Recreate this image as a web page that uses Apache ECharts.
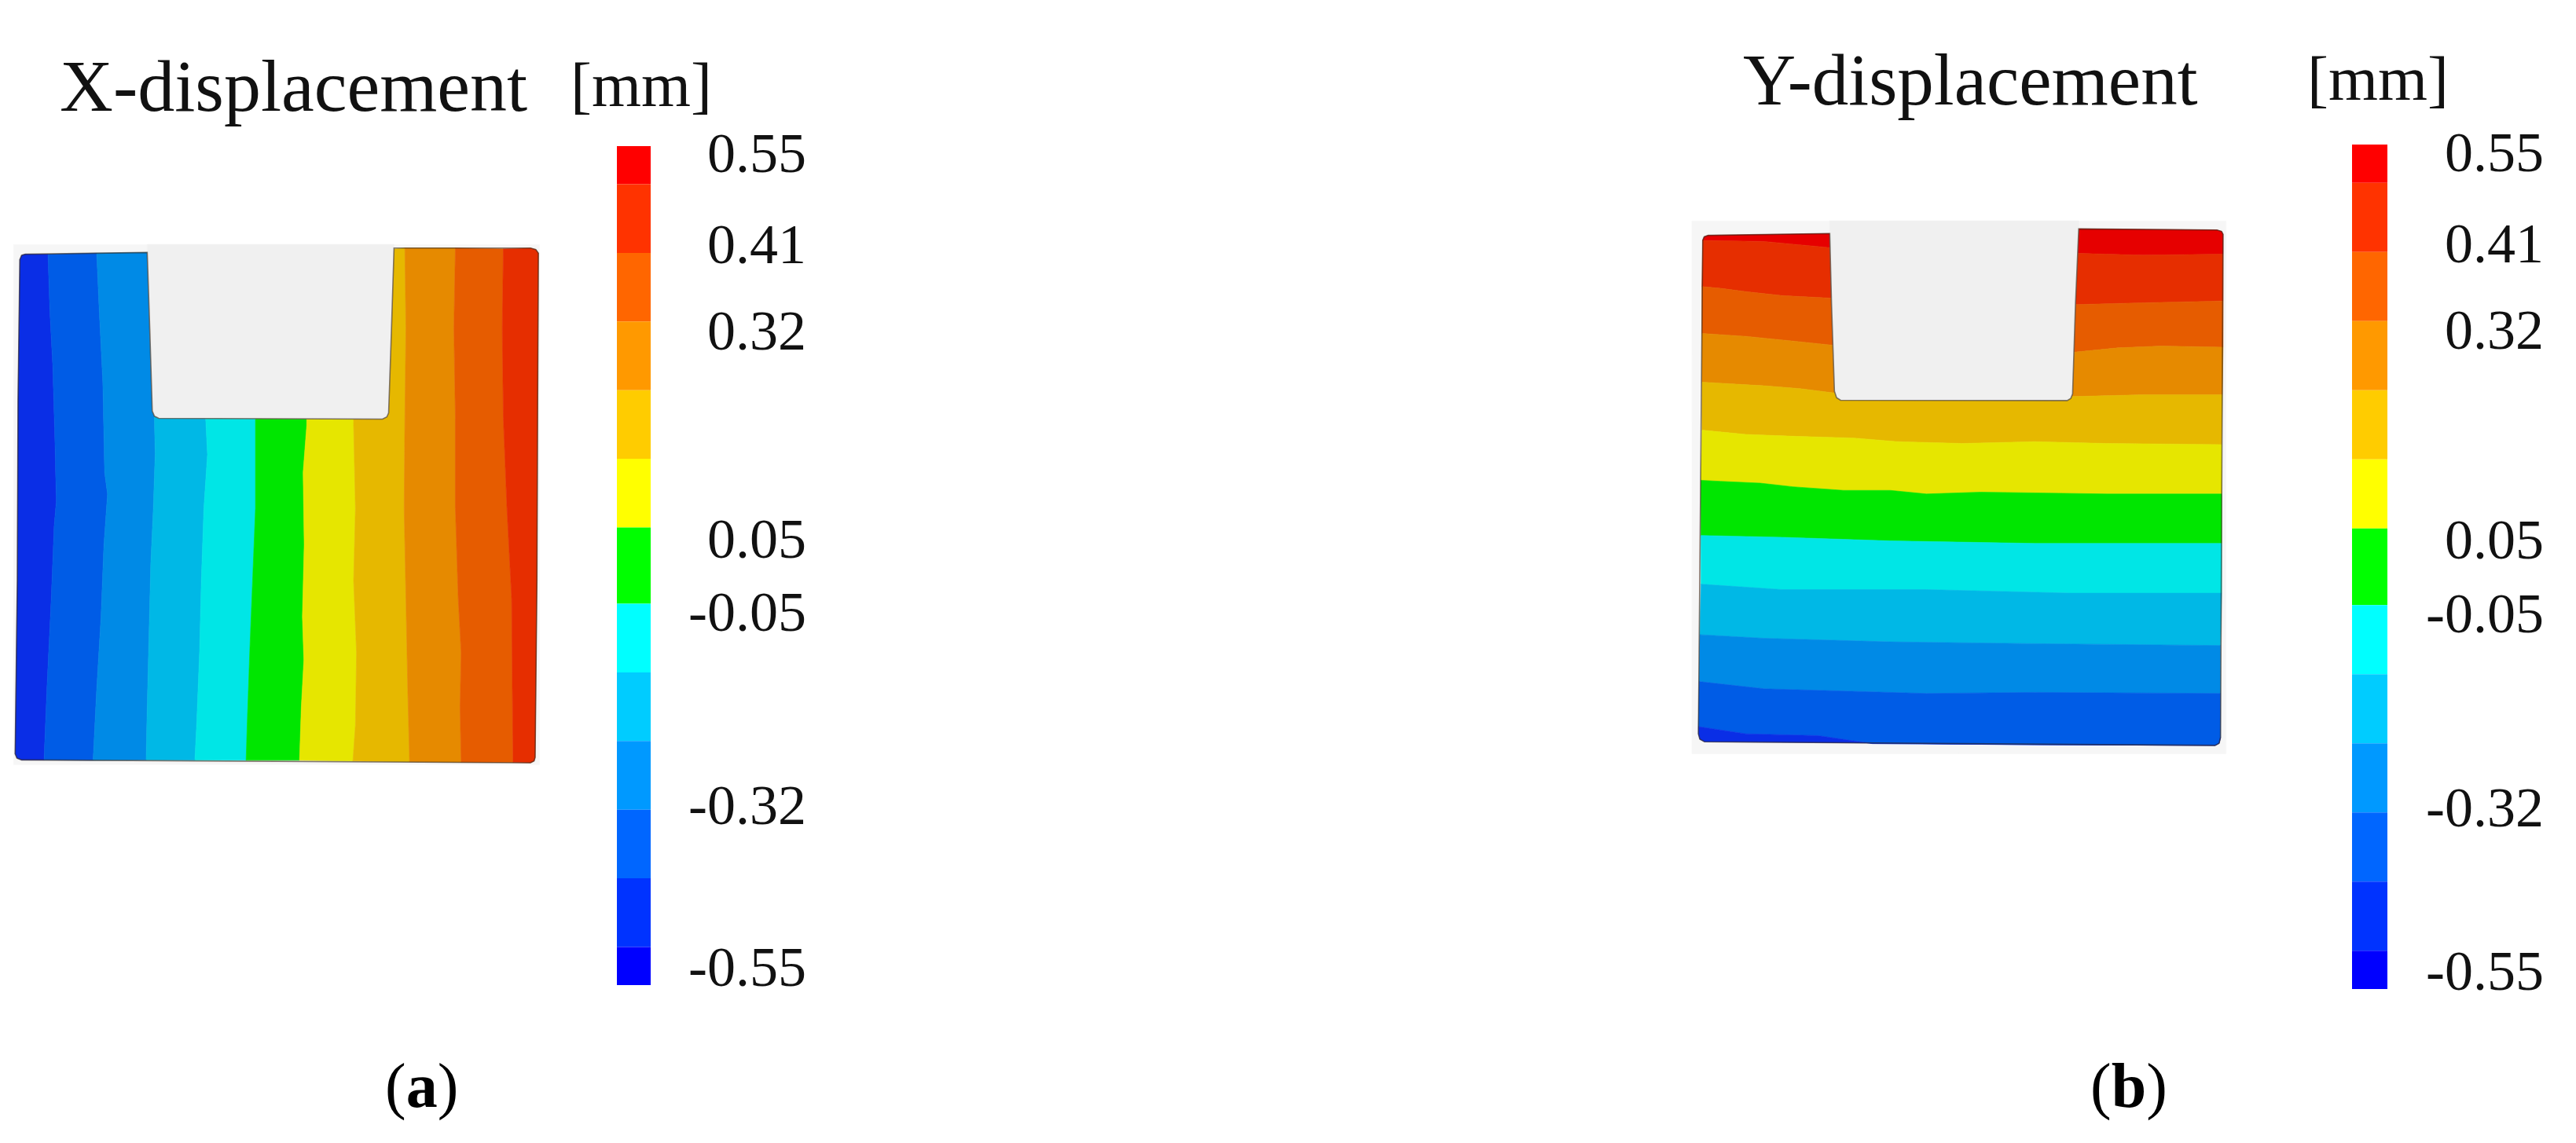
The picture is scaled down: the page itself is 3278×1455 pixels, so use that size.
<!DOCTYPE html>
<html>
<head>
<meta charset="utf-8">
<title>Displacement contours</title>
<script src="https://cdn.jsdelivr.net/npm/echarts@6/dist/echarts.min.js"></script>
<style>
  html, body { margin: 0; background: #fff; }
  #chart { width: 3278px; height: 1455px; }
</style>
</head>
<body>
<div id="chart"></div>
<script>
// colour scale, top to bottom
const bandEdges = [0.55, 0.50, 0.41, 0.32, 0.23, 0.14, 0.05, -0.05, -0.14, -0.23, -0.32, -0.41, -0.50, -0.55]
const barColors = ['#ff0000', '#ff3300', '#ff6600', '#ff9900', '#ffcc00', '#ffff00', '#00ff00',
  '#00ffff', '#00ccff', '#0099ff', '#0066ff', '#0033ff', '#0000ff']
const tickLabels = ['0.55', '0.41', '0.32', '0.05', '-0.05', '-0.32', '-0.55']
// where the printed labels sit on the scale (they are not on the band edges in the figure)
const tickAnchors = [0.535, 0.416, 0.303, 0.030, -0.066, -0.319, -0.532]

// the plate is shaded a little darker than the scale
const xPlateColors = ['#0a2ee6', '#005ce6', '#008ae6', '#00b8e6', '#00e6e6', '#00e600',
  '#e6e600', '#e6b800', '#e68a00', '#e65c00', '#e62e00']
const yPlateColors = ['#e60000', '#e62e00', '#e65c00', '#e68a00', '#e6b800', '#e6e600', '#00e600',
  '#00e6e6', '#00b8e6', '#008ae6', '#005ce6', '#0a2ee6']

// X-displacement plate, contour lines left to right, plate units
const xLeftEdge = [[70, 95], [60, 98], [55, 110], [50, 500], [48, 1000], [42, 1480], [47, 1492], [60, 1497]]
const xRightEdge = [[1470, 78], [1485, 82], [1492, 92], [1490, 500], [1488, 1000], [1483, 1490], [1480, 1500], [1470, 1505]]
const xNotch = [[408, 90], [415, 300], [422, 530], [428, 544], [440, 550], [1060, 552], [1072, 546], [1077, 535], [1085, 300], [1092, 78]]
const xContours = [
  [[133, 95], [138, 250], [146, 400], [152, 600], [156, 780], [150, 850], [142, 1050], [130, 1300], [122, 1497]],
  [[268, 92], [275, 250], [285, 450], [290, 700], [298, 760], [288, 900], [280, 1100], [268, 1300], [258, 1498]],
  [[425, 90], [428, 550], [430, 650], [425, 800], [418, 950], [413, 1150], [408, 1350], [405, 1497]],
  [[570, 90], [570, 550], [575, 650], [565, 800], [558, 1000], [553, 1200], [545, 1400], [540, 1498]],
  [[708, 90], [708, 550], [708, 800], [700, 1000], [692, 1200], [685, 1400], [682, 1498]],
  [[850, 90], [850, 570], [840, 700], [843, 900], [838, 1100], [842, 1220], [835, 1350], [830, 1498]],
  [[982, 90], [980, 570], [985, 800], [980, 1000], [988, 1200], [985, 1400], [978, 1500]],
  [[1122, 78], [1125, 300], [1122, 550], [1120, 800], [1125, 1050], [1130, 1300], [1135, 1502]],
  [[1262, 78], [1258, 300], [1262, 550], [1262, 800], [1270, 1050], [1278, 1200], [1275, 1350], [1278, 1503]],
  [[1395, 80], [1392, 300], [1395, 550], [1405, 800], [1418, 1050], [1420, 1300], [1422, 1504]]
]
const xBackdrop = [[38, 68], [1495, 68], [1495, 1510], [38, 1510]]

// Y-displacement plate, contour lines top to bottom, plate units
const yTopEdge = [[80, 122], [84, 112], [95, 108], [432, 103], [1122, 90], [1505, 93], [1518, 97], [1522, 105]]
const yBottomEdge = [[68, 1490], [72, 1505], [85, 1512], [500, 1515], [1000, 1520], [1500, 1522], [1511, 1516], [1515, 1500]]
const yNotch = [[432, 103], [437, 300], [445, 540], [451, 558], [462, 565], [1090, 566], [1100, 560], [1105, 548], [1113, 300], [1122, 90]]
const yContours = [
  [[80, 122], [250, 125], [432, 142], [800, 150], [1122, 158], [1300, 163], [1522, 160]],
  [[78, 250], [130, 255], [200, 264], [300, 275], [435, 282], [800, 300], [1115, 300], [1300, 295], [1522, 290]],
  [[78, 380], [200, 388], [320, 400], [435, 412], [1110, 432], [1230, 420], [1350, 415], [1522, 418]],
  [[78, 515], [250, 525], [350, 533], [445, 545], [1105, 555], [1300, 550], [1520, 550]],
  [[78, 648], [200, 660], [330, 665], [500, 670], [620, 680], [800, 685], [1000, 680], [1200, 685], [1518, 688]],
  [[75, 787], [130, 790], [240, 795], [330, 805], [470, 815], [600, 815], [700, 825], [850, 820], [1000, 822], [1200, 825], [1350, 825], [1518, 825]],
  [[75, 940], [300, 945], [600, 955], [1000, 962], [1518, 962]],
  [[75, 1075], [300, 1090], [700, 1090], [1100, 1100], [1518, 1100]],
  [[72, 1215], [250, 1225], [600, 1235], [1000, 1240], [1515, 1245]],
  [[70, 1345], [250, 1365], [700, 1378], [1000, 1375], [1515, 1378]],
  [[68, 1470], [200, 1490], [400, 1495], [550, 1517], [1000, 1520], [1500, 1522], [1511, 1516], [1515, 1500]]
]
const yBackdrop = [[50, 68], [1530, 68], [1530, 1545], [50, 1545]]

const chart = echarts.init(document.getElementById('chart'))

function plateShapes(backdrop, lines, colors, notch, outline) {
  const shapes = [{ points: backdrop, fill: '#f6f6f6' }]
  for (let i = 0; i < lines.length - 1; i++) {
    shapes.push({ points: lines[i].concat(lines[i + 1].slice().reverse()), fill: colors[i] })
  }
  const topY = backdrop[0][1]
  const last = notch[notch.length - 1]
  shapes.push({ points: notch.concat([[last[0], topY], [notch[0][0], topY]]), fill: '#f0f0f0' })
  shapes.push({ points: outline, stroke: 'rgba(50, 35, 20, 0.6)' })
  return shapes
}

function plateSeries(index, shapes) {
  return {
    type: 'custom',
    xAxisIndex: index,
    yAxisIndex: index,
    silent: true,
    clip: false,
    data: shapes.map((s, i) => [i]),
    renderItem: (params, api) => {
      const s = shapes[params.dataIndex]
      return {
        type: 'polygon',
        shape: { points: s.points.map(p => api.coord(p)) },
        style: s.stroke
          ? { fill: 'none', stroke: s.stroke, lineWidth: 1.6 }
          : { fill: s.fill, stroke: s.fill, lineWidth: 0.6 }
      }
    }
  }
}

function scaleSeries(index) {
  return {
    type: 'custom',
    xAxisIndex: index,
    yAxisIndex: index,
    silent: true,
    data: barColors.map((c, i) => [0, bandEdges[i], bandEdges[i + 1]]),
    renderItem: (params, api) => {
      const top = api.coord([0, api.value(1)])
      const bottom = api.coord([0, api.value(2)])
      return {
        type: 'rect',
        shape: { x: params.coordSys.x, y: top[1], width: params.coordSys.width, height: bottom[1] - top[1] },
        style: { fill: barColors[params.dataIndex] }
      }
    }
  }
}

const plateAxis = { type: 'value', min: 0, max: 1568, show: false }
const scaleAxisY = {
  type: 'value',
  position: 'right',
  min: -0.55,
  max: 0.55,
  axisLine: { show: false },
  axisTick: { show: false },
  splitLine: { show: false },
  axisLabel: {
    customValues: tickAnchors,
    formatter: value => tickLabels[tickAnchors.indexOf(value)],
    align: 'right',
    margin: 198,
    color: '#111',
    fontFamily: 'Liberation Serif',
    fontSize: 72
  }
}
const scaleAxisX = { type: 'category', data: ['scale'], show: false }

const titleFont = { fontFamily: 'Liberation Serif', fontWeight: 'normal', color: '#111' }
const captionRich = {
  n: { fontFamily: 'Liberation Serif', fontSize: 80, fontWeight: 'normal', color: '#000' },
  b: { fontFamily: 'Liberation Serif', fontSize: 80, fontWeight: 'bold', color: '#000' }
}

chart.setOption({
  backgroundColor: '#ffffff',
  animation: false,
  title: [
    { text: 'X-displacement', left: 76, top: 69, padding: 0, textStyle: { ...titleFont, fontSize: 94 } },
    { text: '[mm]', left: 726, top: 73, padding: 0, textStyle: { ...titleFont, fontSize: 81 } },
    { text: 'Y-displacement', left: 2218, top: 62, padding: 0, textStyle: { ...titleFont, fontSize: 93 } },
    { text: '[mm]', left: 2936, top: 65, padding: 0, textStyle: { ...titleFont, fontSize: 81 } },
    { text: '{n|(}{b|a}{n|)}', left: 490, top: 1348, padding: 0, textStyle: { fontWeight: 'normal', rich: captionRich } },
    { text: '{n|(}{b|b}{n|)}', left: 2660, top: 1348, padding: 0, textStyle: { fontWeight: 'normal', rich: captionRich } }
  ],
  grid: [
    { left: 0, top: 280, width: 720, height: 720 },
    { left: 2130, top: 250, width: 720, height: 720 },
    { left: 785, top: 186, width: 43, height: 1068 },
    { left: 2993, top: 184, width: 45, height: 1075 }
  ],
  xAxis: [
    { ...plateAxis, gridIndex: 0 },
    { ...plateAxis, gridIndex: 1 },
    { ...scaleAxisX, gridIndex: 2 },
    { ...scaleAxisX, gridIndex: 3 }
  ],
  yAxis: [
    { ...plateAxis, gridIndex: 0, inverse: true },
    { ...plateAxis, gridIndex: 1, inverse: true },
    { ...scaleAxisY, gridIndex: 2 },
    { ...scaleAxisY, gridIndex: 3, axisLabel: { ...scaleAxisY.axisLabel, margin: 199 } }
  ],
  series: [
    plateSeries(0, plateShapes(xBackdrop,
      [xLeftEdge].concat(xContours, [xRightEdge]),
      xPlateColors,
      xNotch,
      xNotch.concat(xRightEdge, xLeftEdge.slice().reverse()))),
    plateSeries(1, plateShapes(yBackdrop,
      [yTopEdge].concat(yContours, [yBottomEdge]),
      yPlateColors,
      yNotch,
      // notch, then round the plate clockwise from the top right corner
      yNotch.concat(yTopEdge.slice(5), yBottomEdge.slice(5).reverse(), yBottomEdge.slice(0, 3).reverse(), yTopEdge.slice(0, 3)))),
    scaleSeries(2),
    scaleSeries(3)
  ]
})
</script>
</body>
</html>
